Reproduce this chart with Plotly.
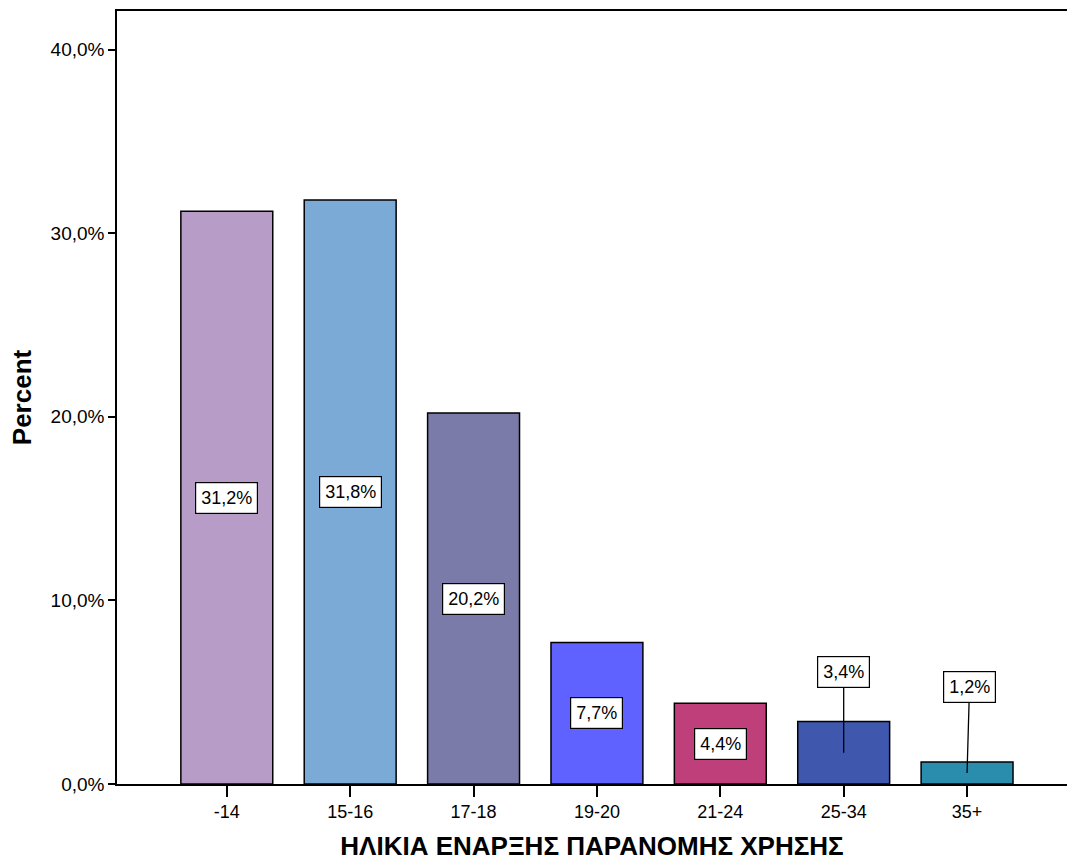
import plotly.graph_objects as go

categories = ["-14", "15-16", "17-18", "19-20", "21-24", "25-34", "35+"]
percents = [31.2, 31.8, 20.2, 7.7, 4.4, 3.4, 1.2]
labels = ["31,2%", "31,8%", "20,2%", "7,7%", "4,4%", "3,4%", "1,2%"]
colors = ["#B89CC8", "#7BAAD6", "#7A7BA8", "#5F62FE", "#BE3F7A", "#3F57AD", "#2A8DAE"]
# label y positions (data units); None = centre of bar
label_y = [None, None, None, None, None, 6.1, 5.3]
y_tickvals = [0, 10, 20, 30, 40]
y_ticktext = ["0,0%", "10,0%", "20,0%", "30,0%", "40,0%"]

FONT = "Liberation Sans, Arial, sans-serif"

fig = go.Figure()
fig.add_trace(go.Bar(
    x=list(range(len(categories))), y=percents,
    marker=dict(color=colors, line=dict(color="black", width=1.5)),
    width=0.745, showlegend=False, hoverinfo="skip",
))

annotations = []
for i, (v, lab, ly) in enumerate(zip(percents, labels, label_y)):
    common = dict(text=lab, font=dict(family=FONT, size=18, color="black"),
                  bgcolor="white", bordercolor="black", borderwidth=1.2, borderpad=5)
    if ly is None:
        annotations.append(dict(x=i, y=v / 2, xref="x", yref="y", showarrow=False, **common))
    else:
        annotations.append(dict(x=i, y=v / 2, xref="x", yref="y", ax=i + (0.02 if i == 6 else 0),
                                ay=ly, axref="x", ayref="y", showarrow=True, arrowhead=0,
                                arrowwidth=1.3, arrowcolor="black", standoff=0, **common))

fig.update_layout(
    width=1067, height=861,
    margin=dict(l=117, r=0, t=11, b=77, autoexpand=False),
    plot_bgcolor="white", paper_bgcolor="white",
    font=dict(family=FONT, size=18, color="black"),
    annotations=annotations,
    xaxis=dict(
        tickmode="array", tickvals=list(range(len(categories))), ticktext=categories,
        range=[-0.89, 6.81], showgrid=False, zeroline=False,
        showline=True, linecolor="black", linewidth=1.5, mirror=True,
        ticks="outside", ticklen=11, tickwidth=1.5, tickcolor="black",
        tickfont=dict(family=FONT, size=18),
        title=dict(text="<b>ΗΛΙΚΙΑ ΕΝΑΡΞΗΣ ΠΑΡΑΝΟΜΗΣ ΧΡΗΣΗΣ</b>",
                   font=dict(family=FONT, size=26), standoff=34),
        automargin=False,
    ),
    yaxis=dict(
        range=[0, 42.1], tickmode="array", tickvals=y_tickvals, ticktext=y_ticktext,
        showgrid=False, zeroline=False,
        showline=True, linecolor="black", linewidth=1.5, mirror=True,
        ticks="outside", ticklen=7, tickwidth=2, tickcolor="black",
        tickfont=dict(family=FONT, size=19),
        title=dict(text="<b>Percent</b>", font=dict(family=FONT, size=26), standoff=11),
        automargin=False,
    ),
)

fig.write_html("out.html", config={"displayModeBar": False},
               post_script="document.body.style.margin='0';document.body.style.padding='0';")
